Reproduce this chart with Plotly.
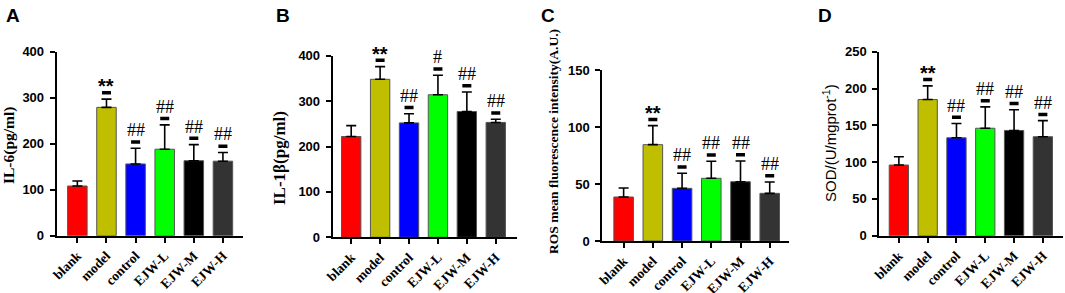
import plotly.graph_objects as go

# ---------------- data ----------------
groups = ["blank", "model", "control", "EJW-L", "EJW-M", "EJW-H"]
bar_colors = ["#FF0000", "#BFBF00", "#0000FF", "#00FF00", "#000000", "#333333"]

il6_mean = [108, 279, 156, 188, 163, 162]
il6_err = [11, 18, 34, 53, 35, 19]
il6_sig = ["", "**", "##", "##", "##", "##"]

il1b_mean = [222, 348, 252, 314, 277, 253]
il1b_err = [24, 28, 20, 43, 43, 7]
il1b_sig = ["", "**", "##", "#", "##", "##"]

ros_mean = [38.6, 84.5, 46.2, 55.0, 52.0, 41.8]
ros_err = [7.9, 16.7, 13.2, 14.9, 18.2, 10.0]
ros_sig = ["", "**", "##", "##", "##", "##"]

sod_mean = [96, 185, 133, 146, 143, 134.5]
sod_err = [11.3, 18.6, 19.4, 29, 28.2, 21.8]
sod_sig = ["", "**", "##", "##", "##", "##"]

panel_letters = ["A", "B", "C", "D"]
y_titles = ["IL-6(pg/ml)", "IL-1β(pg/ml)", "ROS mean fluorescence intensity(A.U.)",
            "SOD/(U/mgprot<sup>-1</sup>)"]
y_max = [400, 400, 150, 250]
y_dtick = [100, 100, 50, 50]

# ---------------- layout geometry (pixels) ----------------
W, H = 1065, 293
panels = [
    dict(mean=il6_mean, err=il6_err, sig=il6_sig,
         xpx=(56.7, 243.3), xr=(-0.71, 5.70), ypx=(235.7, 51.7),
         letter=(4, 3), title=(9, 145, 15.5, "Liberation Serif", "bold")),
    dict(mean=il1b_mean, err=il1b_err, sig=il1b_sig,
         xpx=(332.7, 517.3), xr=(-0.64, 5.745), ypx=(237.3, 55.7),
         letter=(274, 3), title=(279, 158, 17, "Liberation Serif", "bold")),
    dict(mean=ros_mean, err=ros_err, sig=ros_sig,
         xpx=(602.3, 789.3), xr=(-0.73, 5.67), ypx=(241.0, 70.0),
         letter=(539, 3), title=(553, 142, 13.5, "Liberation Serif", "bold")),
    dict(mean=sod_mean, err=sod_err, sig=sod_sig,
         xpx=(879.3, 1063.3), xr=(-0.68, 5.71), ypx=(235.7, 51.7),
         letter=(816, 3), title=(830, 143, 15, "Liberation Sans", "normal")),
]

fig = go.Figure()
annotations = []
shapes = []
layout = dict(width=W, height=H,
              margin=dict(l=0, r=0, t=0, b=0, autoexpand=False),
              template="none",
              plot_bgcolor="white", paper_bgcolor="white", showlegend=False,
              bargap=0.33)

for i, p in enumerate(panels):
    n = "" if i == 0 else str(i + 1)
    xa, ya = "x" + n, "y" + n
    fig.add_trace(go.Bar(
        x=groups, y=p["mean"], xaxis=xa, yaxis=ya,
        marker=dict(color=bar_colors, line=dict(color="#555555", width=1)),
        error_y=dict(type="data", symmetric=False, array=p["err"],
                     arrayminus=[0] * len(groups), color="black",
                     thickness=1.6, width=5),
        hoverinfo="skip",
    ))
    layout["xaxis" + n] = dict(
        domain=[p["xpx"][0] / W, p["xpx"][1] / W], range=list(p["xr"]),
        anchor=ya, showline=True, linewidth=2, linecolor="black",
        ticks="outside", ticklen=5, tickwidth=2, tickcolor="black",
        tickangle=-45, showgrid=False, zeroline=False, automargin=False,
        tickfont=dict(family="Liberation Serif", size=13.5, color="black", weight="bold"),
    )
    layout["yaxis" + n] = dict(
        domain=[1 - p["ypx"][0] / H, 1 - p["ypx"][1] / H], range=[0, y_max[i]],
        dtick=y_dtick[i], anchor=xa, showline=True, linewidth=2, linecolor="black",
        ticks="outside", ticklen=5, tickwidth=2, tickcolor="black",
        showgrid=False, zeroline=False, ticklabelstandoff=3, automargin=False,
        tickfont=dict(family="Liberation Sans", size=13, color="black", weight="bold"),
    )
    # significance dashes and labels
    for j, g in enumerate(groups):
        lab = p["sig"][j]
        if not lab:
            continue
        top = p["mean"][j] + p["err"][j]
        shapes.append(dict(type="rect", xref=xa, yref=ya,
                           xsizemode="pixel", xanchor=j, x0=-4.5, x1=4.5,
                           ysizemode="pixel", yanchor=top, y0=4.5, y1=8,
                           fillcolor="black", line=dict(width=0)))
        if "*" in lab:
            font = dict(family="Liberation Sans", size=20, color="black", weight="bold")
            shift = 13
        else:
            font = dict(family="Liberation Serif", size=18, color="black")
            shift = 18
        annotations.append(dict(x=j, y=top, xref=xa, yref=ya, text=lab,
                                showarrow=False, yshift=shift, font=font,
                                xanchor="center", yanchor="middle"))
    # panel letter
    lx, ly = p["letter"]
    annotations.append(dict(x=lx / W, y=1 - ly / H, xref="paper", yref="paper",
                            text=panel_letters[i], showarrow=False,
                            xanchor="left", yanchor="top",
                            font=dict(family="Liberation Sans", size=19,
                                      color="black", weight="bold")))
    # y title
    tx, ty, ts, tf, tw = p["title"]
    annotations.append(dict(x=tx / W, y=1 - ty / H, xref="paper", yref="paper",
                            text=y_titles[i], showarrow=False, textangle=-90,
                            xanchor="center", yanchor="middle",
                            font=dict(family=tf, size=ts, color="black", weight=tw)))

layout["annotations"] = annotations
layout["shapes"] = shapes
fig.update_layout(**layout)
fig.write_html("out.html", config={"displayModeBar": False},
               post_script="document.body.style.margin='0';document.body.style.overflow='hidden';")
